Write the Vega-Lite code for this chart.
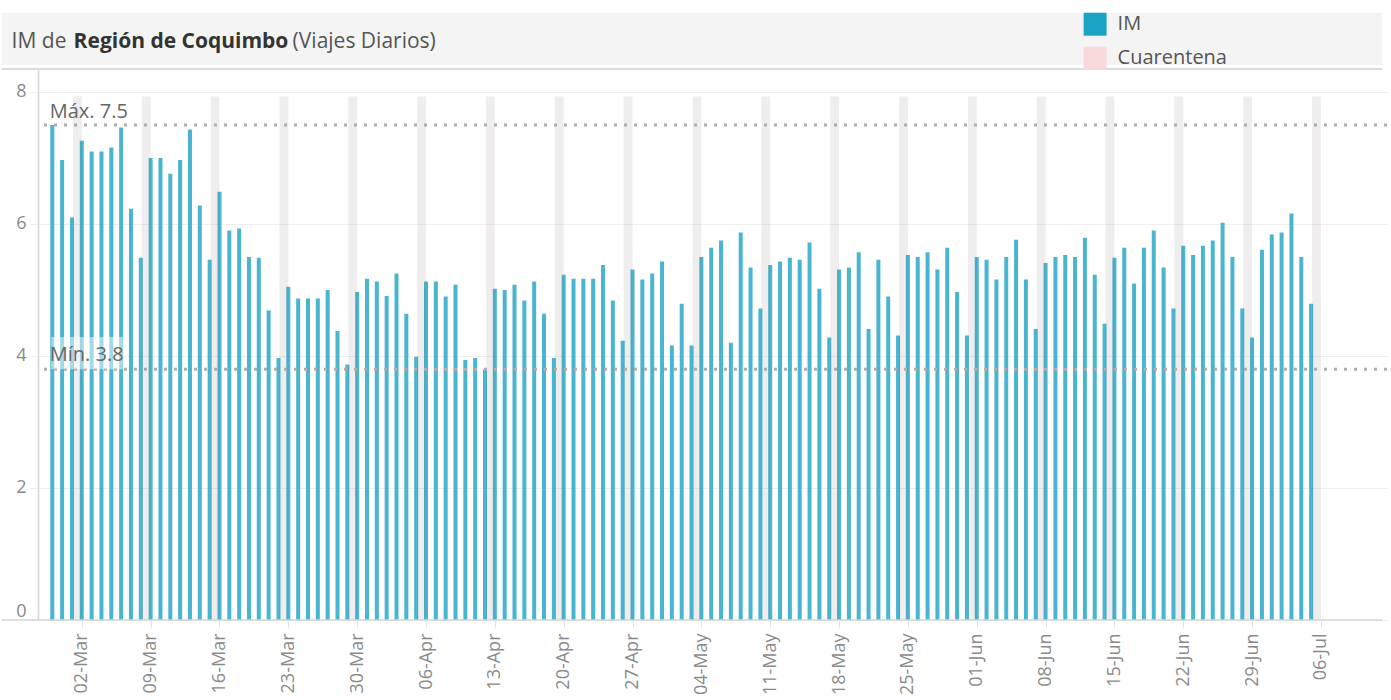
{
  "$schema": "https://vega.github.io/schema/vega-lite/v6.json",
  "width": 1349,
  "height": 550,
  "padding": {"left": 0, "top": 12, "right": 0, "bottom": 0},
  "background": "white",
  "config": {
    "view": {"stroke": null},
    "font": "Open Sans",
    "axis": {"labelFont": "Open Sans", "titleFont": "Open Sans"},
    "legend": {"labelFont": "Open Sans"}
  },
  "datasets": {
    "im": [
      {"date": "2020-02-28", "IM": 7.5}, {"date": "2020-02-29", "IM": 6.97}, {"date": "2020-03-01", "IM": 6.10},
      {"date": "2020-03-02", "IM": 7.26}, {"date": "2020-03-03", "IM": 7.10}, {"date": "2020-03-04", "IM": 7.10},
      {"date": "2020-03-05", "IM": 7.16}, {"date": "2020-03-06", "IM": 7.46}, {"date": "2020-03-07", "IM": 6.23},
      {"date": "2020-03-08", "IM": 5.49}, {"date": "2020-03-09", "IM": 7.00}, {"date": "2020-03-10", "IM": 7.00},
      {"date": "2020-03-11", "IM": 6.76}, {"date": "2020-03-12", "IM": 6.97}, {"date": "2020-03-13", "IM": 7.43},
      {"date": "2020-03-14", "IM": 6.28}, {"date": "2020-03-15", "IM": 5.46}, {"date": "2020-03-16", "IM": 6.49},
      {"date": "2020-03-17", "IM": 5.90}, {"date": "2020-03-18", "IM": 5.93}, {"date": "2020-03-19", "IM": 5.50},
      {"date": "2020-03-20", "IM": 5.49}, {"date": "2020-03-21", "IM": 4.69}, {"date": "2020-03-22", "IM": 3.97},
      {"date": "2020-03-23", "IM": 5.05}, {"date": "2020-03-24", "IM": 4.87}, {"date": "2020-03-25", "IM": 4.87},
      {"date": "2020-03-26", "IM": 4.87}, {"date": "2020-03-27", "IM": 5.00}, {"date": "2020-03-28", "IM": 4.38},
      {"date": "2020-03-29", "IM": 3.87}, {"date": "2020-03-30", "IM": 4.97}, {"date": "2020-03-31", "IM": 5.17},
      {"date": "2020-04-01", "IM": 5.13}, {"date": "2020-04-02", "IM": 4.91}, {"date": "2020-04-03", "IM": 5.25},
      {"date": "2020-04-04", "IM": 4.64}, {"date": "2020-04-05", "IM": 3.99}, {"date": "2020-04-06", "IM": 5.13},
      {"date": "2020-04-07", "IM": 5.13}, {"date": "2020-04-08", "IM": 4.90}, {"date": "2020-04-09", "IM": 5.08},
      {"date": "2020-04-10", "IM": 3.94}, {"date": "2020-04-11", "IM": 3.97}, {"date": "2020-04-12", "IM": 3.80},
      {"date": "2020-04-13", "IM": 5.02}, {"date": "2020-04-14", "IM": 5.00}, {"date": "2020-04-15", "IM": 5.08},
      {"date": "2020-04-16", "IM": 4.84}, {"date": "2020-04-17", "IM": 5.13}, {"date": "2020-04-18", "IM": 4.64},
      {"date": "2020-04-19", "IM": 3.97}, {"date": "2020-04-20", "IM": 5.23}, {"date": "2020-04-21", "IM": 5.17},
      {"date": "2020-04-22", "IM": 5.17}, {"date": "2020-04-23", "IM": 5.17}, {"date": "2020-04-24", "IM": 5.38},
      {"date": "2020-04-25", "IM": 4.84}, {"date": "2020-04-26", "IM": 4.23}, {"date": "2020-04-27", "IM": 5.31},
      {"date": "2020-04-28", "IM": 5.16}, {"date": "2020-04-29", "IM": 5.25}, {"date": "2020-04-30", "IM": 5.43},
      {"date": "2020-05-01", "IM": 4.16}, {"date": "2020-05-02", "IM": 4.79}, {"date": "2020-05-03", "IM": 4.16},
      {"date": "2020-05-04", "IM": 5.50}, {"date": "2020-05-05", "IM": 5.64}, {"date": "2020-05-06", "IM": 5.75},
      {"date": "2020-05-07", "IM": 4.20}, {"date": "2020-05-08", "IM": 5.87}, {"date": "2020-05-09", "IM": 5.34},
      {"date": "2020-05-10", "IM": 4.72}, {"date": "2020-05-11", "IM": 5.38}, {"date": "2020-05-12", "IM": 5.43},
      {"date": "2020-05-13", "IM": 5.49}, {"date": "2020-05-14", "IM": 5.46}, {"date": "2020-05-15", "IM": 5.72},
      {"date": "2020-05-16", "IM": 5.02}, {"date": "2020-05-17", "IM": 4.28}, {"date": "2020-05-18", "IM": 5.31},
      {"date": "2020-05-19", "IM": 5.34}, {"date": "2020-05-20", "IM": 5.57}, {"date": "2020-05-21", "IM": 4.41},
      {"date": "2020-05-22", "IM": 5.46}, {"date": "2020-05-23", "IM": 4.90}, {"date": "2020-05-24", "IM": 4.31},
      {"date": "2020-05-25", "IM": 5.53}, {"date": "2020-05-26", "IM": 5.50}, {"date": "2020-05-27", "IM": 5.57},
      {"date": "2020-05-28", "IM": 5.31}, {"date": "2020-05-29", "IM": 5.64}, {"date": "2020-05-30", "IM": 4.97},
      {"date": "2020-05-31", "IM": 4.31}, {"date": "2020-06-01", "IM": 5.50}, {"date": "2020-06-02", "IM": 5.46},
      {"date": "2020-06-03", "IM": 5.16}, {"date": "2020-06-04", "IM": 5.50}, {"date": "2020-06-05", "IM": 5.76},
      {"date": "2020-06-06", "IM": 5.16}, {"date": "2020-06-07", "IM": 4.41}, {"date": "2020-06-08", "IM": 5.41},
      {"date": "2020-06-09", "IM": 5.50}, {"date": "2020-06-10", "IM": 5.53}, {"date": "2020-06-11", "IM": 5.50},
      {"date": "2020-06-12", "IM": 5.79}, {"date": "2020-06-13", "IM": 5.23}, {"date": "2020-06-14", "IM": 4.49},
      {"date": "2020-06-15", "IM": 5.49}, {"date": "2020-06-16", "IM": 5.64}, {"date": "2020-06-17", "IM": 5.10},
      {"date": "2020-06-18", "IM": 5.64}, {"date": "2020-06-19", "IM": 5.90}, {"date": "2020-06-20", "IM": 5.34},
      {"date": "2020-06-21", "IM": 4.72}, {"date": "2020-06-22", "IM": 5.67}, {"date": "2020-06-23", "IM": 5.53},
      {"date": "2020-06-24", "IM": 5.67}, {"date": "2020-06-25", "IM": 5.75}, {"date": "2020-06-26", "IM": 6.02},
      {"date": "2020-06-27", "IM": 5.50}, {"date": "2020-06-28", "IM": 4.72}, {"date": "2020-06-29", "IM": 4.28},
      {"date": "2020-06-30", "IM": 5.61}, {"date": "2020-07-01", "IM": 5.84}, {"date": "2020-07-02", "IM": 5.87},
      {"date": "2020-07-03", "IM": 6.16}, {"date": "2020-07-04", "IM": 5.50}, {"date": "2020-07-05", "IM": 4.79}
    ],
    "one": [{}]
  },
  "layer": [
    {
      "data": {"name": "im", "format": {"parse": {"date": "date"}}},
      "mark": {"type": "bar", "size": 4, "opacity": 0.8},
      "encoding": {
        "x": {
          "field": "date", "type": "temporal",
          "scale": {
            "type": "utc",
            "domain": [
              {"year": 2020, "month": 2, "date": 27, "hours": 1, "minutes": 20, "utc": true},
              {"year": 2020, "month": 7, "date": 12, "hours": 5, "utc": true}
            ]
          },
          "axis": {
            "title": null,
            "format": "%d-%b",
            "values": [
              {"year": 2020, "month": 3, "date": 2, "utc": true},
              {"year": 2020, "month": 3, "date": 9, "utc": true},
              {"year": 2020, "month": 3, "date": 16, "utc": true},
              {"year": 2020, "month": 3, "date": 23, "utc": true},
              {"year": 2020, "month": 3, "date": 30, "utc": true},
              {"year": 2020, "month": 4, "date": 6, "utc": true},
              {"year": 2020, "month": 4, "date": 13, "utc": true},
              {"year": 2020, "month": 4, "date": 20, "utc": true},
              {"year": 2020, "month": 4, "date": 27, "utc": true},
              {"year": 2020, "month": 5, "date": 4, "utc": true},
              {"year": 2020, "month": 5, "date": 11, "utc": true},
              {"year": 2020, "month": 5, "date": 18, "utc": true},
              {"year": 2020, "month": 5, "date": 25, "utc": true},
              {"year": 2020, "month": 6, "date": 1, "utc": true},
              {"year": 2020, "month": 6, "date": 8, "utc": true},
              {"year": 2020, "month": 6, "date": 15, "utc": true},
              {"year": 2020, "month": 6, "date": 22, "utc": true},
              {"year": 2020, "month": 6, "date": 29, "utc": true},
              {"year": 2020, "month": 7, "date": 6, "utc": true}
            ],
            "labelAngle": 270,
            "labelFontSize": 18,
            "labelColor": "#8a8a8a",
            "labelPadding": 6,
            "tickColor": "#e2e2e2",
            "tickSize": 7,
            "domain": false,
            "grid": false
          }
        },
        "y": {
          "field": "IM", "type": "quantitative",
          "scale": {"domain": [0, 8.333], "nice": false},
          "axis": {
            "title": null,
            "values": [0, 2, 4, 6, 8],
            "format": "d",
            "labelFontSize": 18,
            "labelColor": "#8a8a8a",
            "labelPadding": 4,
            "labelFlush": true,
            "tickColor": "#ececec",
            "tickSize": 8,
            "gridColor": "#efefef",
            "gridWidth": 1.2,
            "domainColor": "#d4d4d4",
            "domainWidth": 1.5
          }
        },
        "color": {
          "datum": "IM",
          "type": "nominal",
          "scale": {"domain": ["IM", "Cuarentena"], "range": ["#1ba3c6", "#f8d9dc"]},
          "legend": {
            "title": null,
            "orient": "none",
            "legendX": 1045.6,
            "legendY": -57.3,
            "direction": "vertical",
            "symbolType": "square",
            "symbolSize": 529,
            "symbolStrokeWidth": 0,
            "symbolOpacity": 1,
            "labelFontSize": 20,
            "labelColor": "#555555",
            "labelOffset": 11,
            "rowPadding": 11,
            "padding": 0
          }
        }
      }
    },
    {
      "data": {"name": "im", "format": {"parse": {"date": "date"}}},
      "transform": [{"filter": "utcday(datum.date) === 0"}],
      "mark": {"type": "bar", "color": "#6b5b5b", "opacity": 0.11},
      "encoding": {
        "x": {"field": "date", "type": "temporal", "timeUnit": "utcyearmonthdate"},
        "y": {"datum": 7.93},
        "y2": {"datum": 0}
      }
    },
    {
      "data": {"name": "one"},
      "mark": {"type": "rule", "color": "#aeaeae", "strokeWidth": 3, "strokeDash": [3, 7]},
      "encoding": {"y": {"datum": 7.5}}
    },
    {
      "data": {"name": "one"},
      "mark": {"type": "rule", "color": "#aeaeae", "strokeWidth": 3, "strokeDash": [3, 7]},
      "encoding": {"y": {"datum": 3.8}}
    },
    {
      "data": {"name": "one"},
      "mark": {"type": "rect", "color": "white", "opacity": 0.5},
      "encoding": {
        "x": {"datum": {"year": 2020, "month": 2, "date": 27, "hours": 21, "minutes": 30, "utc": true}},
        "x2": {"datum": {"year": 2020, "month": 3, "date": 6, "hours": 8, "minutes": 35, "utc": true}},
        "y": {"datum": 3.8},
        "y2": {"datum": 4.288}
      }
    },
    {
      "data": {"name": "one"},
      "mark": {"type": "text", "text": "Máx. 7.5", "align": "left", "baseline": "alphabetic", "dx": -1.5, "dy": -7.3, "fontSize": 20, "color": "#666666"},
      "encoding": {
        "x": {"datum": {"year": 2020, "month": 2, "date": 27, "hours": 21, "minutes": 30, "utc": true}},
        "y": {"datum": 7.5}
      }
    },
    {
      "data": {"name": "one"},
      "mark": {"type": "text", "text": "Mín. 3.8", "align": "left", "baseline": "alphabetic", "dx": -1.5, "dy": -8, "fontSize": 20, "color": "#666666"},
      "encoding": {
        "x": {"datum": {"year": 2020, "month": 2, "date": 27, "hours": 21, "minutes": 30, "utc": true}},
        "y": {"datum": 3.8}
      }
    },
    {
      "data": {"name": "one"},
      "mark": {"type": "rect", "color": "#f4f4f4"},
      "encoding": {
        "x": {"datum": {"year": 2020, "month": 2, "date": 22, "hours": 20, "minutes": 20, "utc": true}},
        "x2": {"datum": {"year": 2020, "month": 7, "date": 12, "hours": 5, "utc": true}},
        "y": {"datum": 9.197},
        "y2": {"datum": 8.409}
      }
    },
    {
      "data": {"name": "one"},
      "mark": {"type": "rule", "color": "#cfcfcf", "strokeWidth": 1.5},
      "encoding": {
        "x": {"datum": {"year": 2020, "month": 2, "date": 22, "hours": 20, "minutes": 20, "utc": true}},
        "x2": {"datum": {"year": 2020, "month": 7, "date": 12, "hours": 5, "utc": true}},
        "y": {"datum": 8.348}
      }
    },
    {
      "data": {"name": "one"},
      "mark": {"type": "rule", "color": "#d4d4d4", "strokeWidth": 1.5},
      "encoding": {
        "x": {"datum": {"year": 2020, "month": 2, "date": 22, "hours": 20, "minutes": 20, "utc": true}},
        "x2": {"datum": {"year": 2020, "month": 7, "date": 12, "hours": 5, "utc": true}},
        "y": {"datum": 0}
      }
    },
    {
      "data": {"name": "one"},
      "mark": {"type": "text", "text": "IM de", "align": "left", "baseline": "alphabetic", "dx": 10, "fontSize": 21, "color": "#555555"},
      "encoding": {
        "x": {"datum": {"year": 2020, "month": 2, "date": 22, "hours": 20, "minutes": 20, "utc": true}},
        "y": {"datum": 8.671}
      }
    },
    {
      "data": {"name": "one"},
      "mark": {"type": "text", "text": "Región de Coquimbo", "align": "left", "baseline": "alphabetic", "dx": 72, "fontSize": 21, "fontWeight": "bold", "color": "#333333"},
      "encoding": {
        "x": {"datum": {"year": 2020, "month": 2, "date": 22, "hours": 20, "minutes": 20, "utc": true}},
        "y": {"datum": 8.671}
      }
    },
    {
      "data": {"name": "one"},
      "mark": {"type": "text", "text": "(Viajes Diarios)", "align": "left", "baseline": "alphabetic", "dx": 291, "fontSize": 21, "color": "#555555"},
      "encoding": {
        "x": {"datum": {"year": 2020, "month": 2, "date": 22, "hours": 20, "minutes": 20, "utc": true}},
        "y": {"datum": 8.671}
      }
    }
  ]
}
